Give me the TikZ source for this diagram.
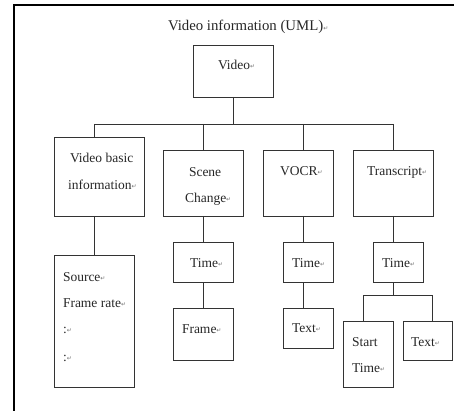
\documentclass[tikz,border=0pt]{standalone}
\usepackage{fontspec}
\setmainfont{Liberation Serif}
\newfontfamily\symfam{DejaVu Sans}
\newcommand\retmark{{\symfam\fontsize{6}{6}\selectfont\color{black!55}\raisebox{0.3ex}{↵}}}
\begin{document}
\begin{tikzpicture}[x=1pt,y=-1pt,
  box/.style={draw=black!80,line width=0.8pt,inner sep=0pt,outer sep=0pt,rectangle},
  lbl/.style={anchor=base west,inner sep=0pt,outer sep=0pt,font=\fontsize{13.5}{13.5}\selectfont,text=black!85},
  conn/.style={draw=black!80,line width=0.8pt}]
\useasboundingbox (0,0) rectangle (454,411);
\draw[line width=1.3pt] (14,411) -- (14,5) -- (454,5);
% title
\node[lbl,font=\fontsize{14.8}{14.8}\selectfont] (title) at (168,31) {Video information (UML)\retmark};
% boxes
\node[box,minimum width=80pt,minimum height=52pt] (video) at (233,71) {};
\node[box,minimum width=90pt,minimum height=79pt] (vbi) at (99,176.5) {};
\node[box,minimum width=80pt,minimum height=66pt] (scene) at (203,183) {};
\node[box,minimum width=70pt,minimum height=66pt] (vocr) at (298,183) {};
\node[box,minimum width=80pt,minimum height=66pt] (trans) at (393,183) {};
\node[box,minimum width=80pt,minimum height=132pt] (source) at (94,321) {};
\node[box,minimum width=60pt,minimum height=40pt] (stime) at (203,262) {};
\node[box,minimum width=60pt,minimum height=52pt] (frame) at (203,334) {};
\node[box,minimum width=50pt,minimum height=40pt] (vtime) at (308,262) {};
\node[box,minimum width=50pt,minimum height=40pt] (vtext) at (308,328) {};
\node[box,minimum width=50pt,minimum height=40pt] (ttime) at (398,262) {};
\node[box,minimum width=50pt,minimum height=66pt] (start) at (368,354) {};
\node[box,minimum width=49pt,minimum height=39pt] (ttext) at (427.5,340.5) {};
% texts
\node[lbl] (tvideo) at (218,69.5) {Video\retmark};
\node[lbl] (tvbi1) at (70,162.5) {Video basic};
\node[lbl] (tvbi2) at (68,189.5) {information\retmark};
\node[lbl] (tscene1) at (189,176.5) {Scene};
\node[lbl] (tscene2) at (185,202.5) {Change\retmark};
\node[lbl] (tvocr) at (280,175.5) {VOCR\retmark};
\node[lbl] (ttrans) at (367,175.5) {Transcript\retmark};
\node[lbl] (tstime) at (190,267.5) {Time\retmark};
\node[lbl] (tvtime) at (292,267.5) {Time\retmark};
\node[lbl] (tttime) at (382,267.5) {Time\retmark};
\node[lbl] (tsrc1) at (63,281.5) {Source\retmark};
\node[lbl] (tsrc2) at (63,307.5) {Frame rate\retmark};
\node[lbl] (tsrc3) at (63,333.5) {:\retmark};
\node[lbl] (tsrc4) at (63,361.5) {:\retmark};
\node[lbl] (tframe) at (182,333.5) {Frame\retmark};
\node[lbl] (tvtext) at (292,332.5) {Text\retmark};
\node[lbl] (tstart1) at (352,346.5) {Start};
\node[lbl] (tstart2) at (352,372.5) {Time\retmark};
\node[lbl] (tttext) at (411,346.5) {Text\retmark};
% connectors
\coordinate (busL) at (94,124);
\coordinate (busR) at (393,124);
\coordinate (b3) at (303,124);
\coordinate (sbL) at (363,295);
\coordinate (sbR) at (432,295);
\draw[conn] (busL) -- (busR);
\draw[conn] (video.south) -- (video.south |- busL);
\draw[conn] (busL) -- (busL |- vbi.north);
\draw[conn] (scene.north |- busL) -- (scene.north);
\draw[conn] (b3) -- (b3 |- vocr.north);
\draw[conn] (busR) -- (busR |- trans.north);
\draw[conn] (busL |- vbi.south) -- (busL |- source.north);
\draw[conn] (scene.south) -- (stime.north);
\draw[conn] (stime.south) -- (frame.north);
\draw[conn] (b3 |- vocr.south) -- (b3 |- vtime.north);
\draw[conn] (b3 |- vtime.south) -- (b3 |- vtext.north);
\draw[conn] (trans.south) -- (trans.south |- ttime.north);
\draw[conn] (trans.south |- ttime.south) -- (trans.south |- sbL);
\draw[conn] (sbL |- start.north) -- (sbL) -- (sbR) -- (sbR |- ttext.north);
\end{tikzpicture}
\end{document}
